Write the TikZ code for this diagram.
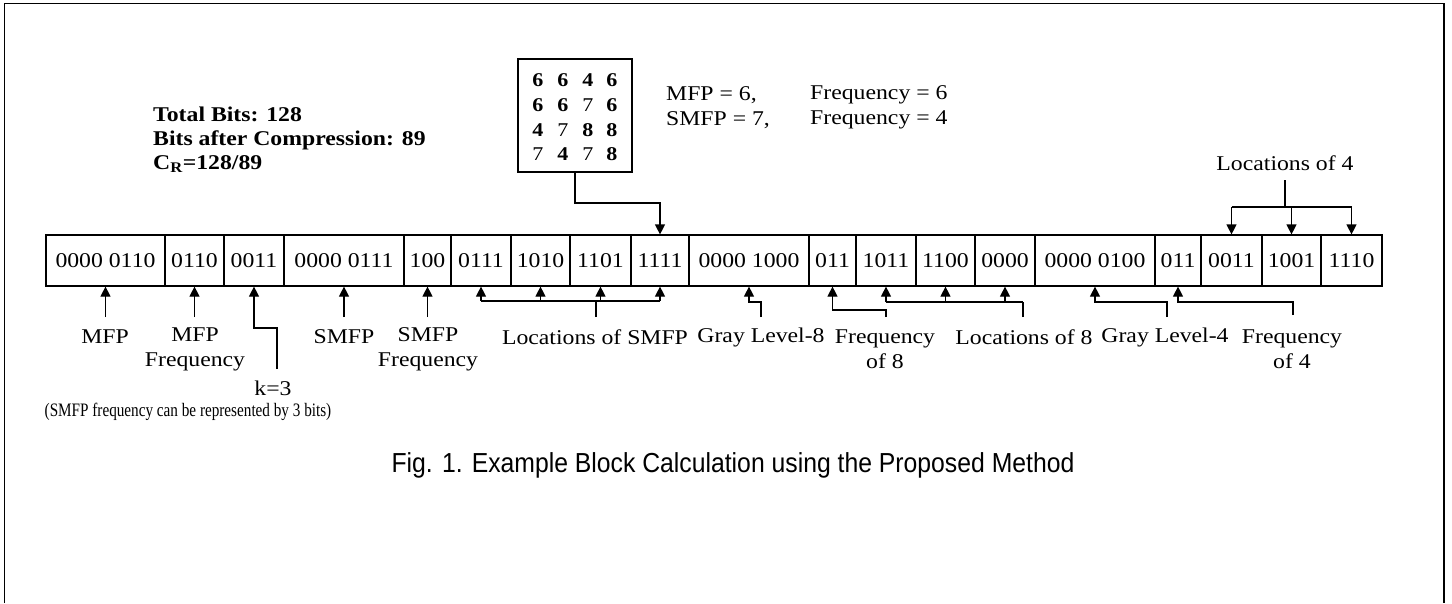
\documentclass[tikz,border=0pt]{standalone}
\usepackage{fontspec}
\setmainfont{Liberation Serif}[FakeStretch=1.13]
\newfontfamily\narrowserif{Liberation Serif}[FakeStretch=0.8]
\newfontfamily\capfont{Liberation Sans}[FakeStretch=0.9]
\usetikzlibrary{arrows.meta}
\tikzset{
  cellbox/.style={draw, line width=1.2pt, minimum height=51, inner sep=0pt, font=\fontsize{21}{25}\selectfont},
  lbl/.style={inner sep=0pt, align=center, font=\fontsize{21}{25}\selectfont},
  arr/.style={-{Triangle[width=10pt,length=10pt]}, line width=1.2pt},
  ln/.style={line width=1.2pt},
  dig/.style={inner sep=0pt, font=\fontsize{19.5}{22}\selectfont\bfseries},
  digr/.style={inner sep=0pt, font=\fontsize{19.5}{22}\selectfont},
}
\newcommand{\cellnode}[4]{\node[cellbox, minimum width={#3-#2}] (#1) at ({(#2+#3)/2},260.5) {#4};}
\begin{document}
\begin{tikzpicture}[x=1pt,y=-1pt]
\useasboundingbox (0,0) rectangle (1452,603);
\draw[line width=1.8pt] (4.5,603) -- (4.5,3.5) -- (1444,3.5) -- (1444,603);

% cells
\cellnode{c1}{46}{165}{0000 0110}
\cellnode{c2}{165}{224}{0110}
\cellnode{c3}{224}{284}{0011}
\cellnode{c4}{284}{404}{0000 0111}
\cellnode{c5}{404}{451}{100}
\cellnode{c6}{451}{511}{0111}
\cellnode{c7}{511}{570}{1010}
\cellnode{c8}{570}{631}{1101}
\cellnode{c9}{631}{689}{1111}
\cellnode{c10}{689}{809}{0000 1000}
\cellnode{c11}{809}{856}{011}
\cellnode{c12}{856}{916}{1011}
\cellnode{c13}{916}{975}{1100}
\cellnode{c14}{975}{1035}{0000}
\cellnode{c15}{1035}{1155}{0000 0100}
\cellnode{c16}{1155}{1201}{011}
\cellnode{c17}{1201}{1262}{0011}
\cellnode{c18}{1262}{1321}{1001}
\cellnode{c19}{1321}{1382}{1110}

% top-left summary
\node[anchor=west, inner sep=0pt, align=left, font=\fontsize{21}{24}\selectfont\bfseries] (summary) at (153,140)
  {Total Bits: 128\\Bits after Compression: 89\\C\textsubscript{R}=128/89};

% matrix box
\node[draw, line width=1.2pt, minimum width=114, minimum height=113, inner sep=0pt] (mat) at (575,115.5) {};
\node[dig] (d11) at (538,80) {6};
\node[dig] (d12) at (563,80) {6};
\node[dig] (d13) at (588,80) {4};
\node[dig] (d14) at (612,80) {6};
\node[dig] (d21) at (538,105) {6};
\node[dig] (d22) at (563,105) {6};
\node[digr] (d23) at (588,105) {7};
\node[dig] (d24) at (612,105) {6};
\node[dig] (d31) at (538,130) {4};
\node[digr] (d32) at (563,130) {7};
\node[dig] (d33) at (588,130) {8};
\node[dig] (d34) at (612,130) {8};
\node[digr] (d41) at (538,154) {7};
\node[dig] (d42) at (563,154) {4};
\node[digr] (d43) at (588,154) {7};
\node[dig] (d44) at (612,154) {8};

\node[lbl, anchor=west] (mfp6) at (666,95) {MFP = 6,};
\node[lbl, anchor=west] (fq6) at (810,95) {Frequency = 6};
\node[lbl, anchor=west] (smfp7) at (666,120) {SMFP = 7,};
\node[lbl, anchor=west] (fq4) at (810,120) {Frequency = 4};

\draw[arr] (mat.south) -- (mat.south |- 0,203) -| (c9.north);

% Locations of 4
\node[lbl] (loc4) at (1285,163) {Locations of 4};
\coordinate (l4top) at (1285,180);
\coordinate (l4bus) at (1285,207);
\draw[ln] (l4top) -- (l4bus);
\draw[ln] (c17.north |- l4bus) -- (c19.north |- l4bus);
\draw[arr] (c17.north |- l4bus) -- (c17.north);
\draw[arr] (c18.north |- l4bus) -- (c18.north);
\draw[arr] (c19.north |- l4bus) -- (c19.north);

% labels below
\node[lbl] (lmfp) at (105,337) {MFP};
\node[lbl] (lmfpf) at (195,349) {MFP\\Frequency};
\node[lbl] (lk) at (273,388) {k=3};
\node[inner sep=0pt, font=\fontsize{19}{22}\selectfont\narrowserif] (lkn) at (188,412) {(SMFP frequency can be represented by 3 bits)};
\node[lbl] (lsmfp) at (344,337) {SMFP};
\node[lbl] (lsmfpf) at (428,349) {SMFP\\Frequency};
\node[lbl] (llocs) at (595,337) {Locations of SMFP};
\node[lbl] (lg8) at (761,337) {Gray Level-8};
\node[lbl] (lf8) at (885,349) {Frequency\\of 8};
\node[lbl] (ll8) at (1024,337) {Locations of 8};
\node[lbl] (lg4) at (1165,337) {Gray Level-4};
\node[lbl] (lf4) at (1292,349) {Frequency\\of 4};

% arrows below
\draw[arr] (c1.south |- 0,317) -- (c1.south);
\draw[arr] (c2.south |- 0,317) -- (c2.south);
\draw[arr] (277,369) -- (277,328) -- (c3.south |- 0,328) -- (c3.south);
\draw[arr] (c4.south |- 0,317) -- (c4.south);
\draw[arr] (c5.south |- 0,317) -- (c5.south);
% locations of SMFP
\draw[ln] (596,317) -- (596,301);
\draw[ln] (c6.south |- 0,301) -- (c9.south |- 0,301);
\draw[arr] (c6.south |- 0,301) -- (c6.south);
\draw[arr] (c7.south |- 0,301) -- (c7.south);
\draw[arr] (c8.south |- 0,301) -- (c8.south);
\draw[arr] (c9.south |- 0,301) -- (c9.south);
% gray level-8
\draw[arr] (761,317) -- (761,302) -- (c10.south |- 0,302) -- (c10.south);
% frequency of 8
\draw[arr] (886,317) -- (886,310) -- (c11.south |- 0,310) -- (c11.south);
% locations of 8
\draw[ln] (1023,317) -- (1023,302);
\draw[ln] (c12.south |- 0,302) -- (1023,302);
\draw[arr] (c12.south |- 0,302) -- (c12.south);
\draw[arr] (c13.south |- 0,302) -- (c13.south);
\draw[arr] (c14.south |- 0,302) -- (c14.south);
% gray level-4
\draw[arr] (1167,317) -- (1167,302) -- (c15.south |- 0,302) -- (c15.south);
% frequency of 4
\draw[arr] (1293,315) -- (1293,302) -- (c16.south |- 0,302) -- (c16.south);

% caption
\node[inner sep=0pt, font=\fontsize{27.5}{32}\selectfont\capfont] (cap) at (733,465) {Fig. 1. Example Block Calculation using the Proposed Method};
\end{tikzpicture}
\end{document}
